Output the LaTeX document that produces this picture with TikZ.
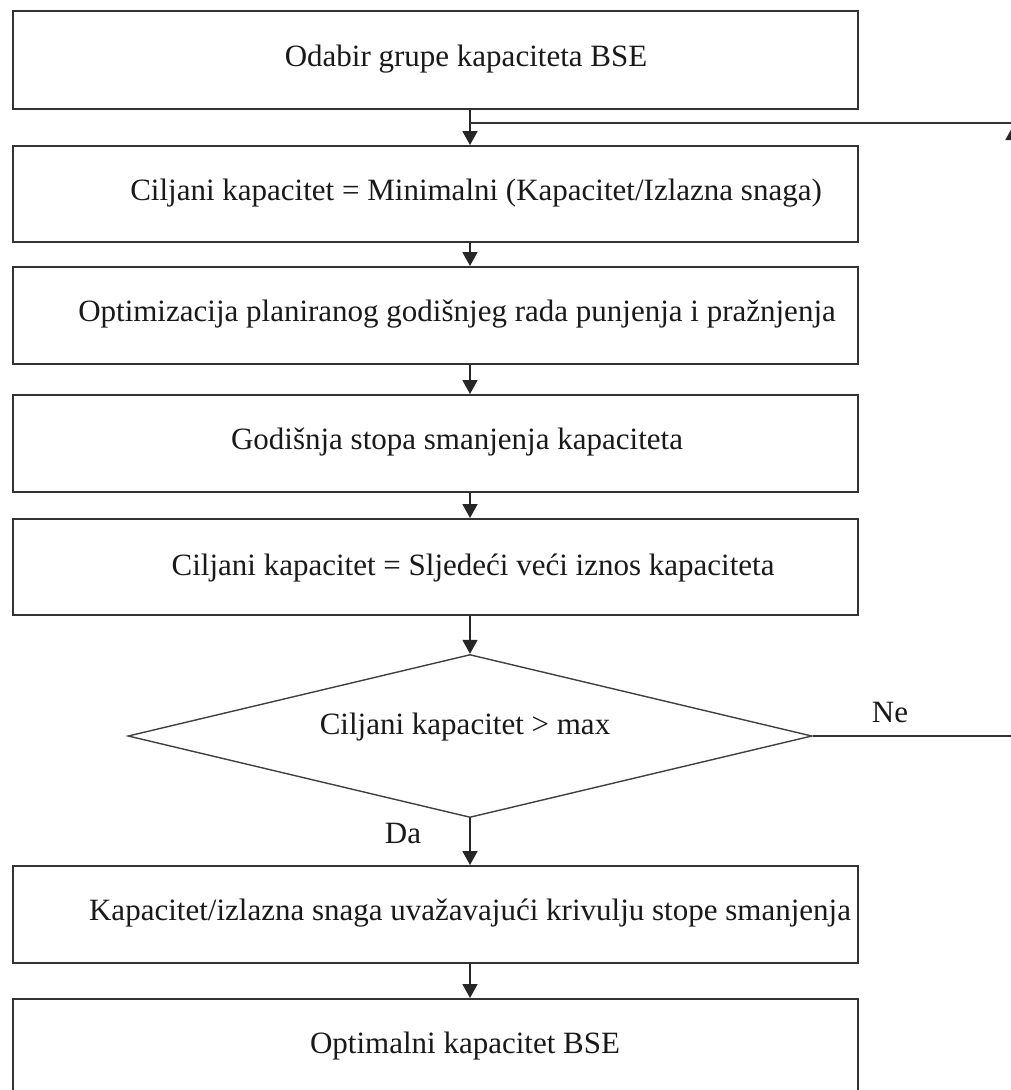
\documentclass[tikz,border=0pt]{standalone}
\usepackage{fontspec}
\setmainfont{Liberation Serif}
\usetikzlibrary{arrows.meta,shapes.geometric}
\begin{document}
\begin{tikzpicture}[x=1pt,y=-1pt,
  box/.style={draw=black!80,line width=1.5pt,minimum width=845pt,inner sep=0pt,anchor=north west},
  txt/.style={font=\fontsize{31}{35}\selectfont,inner sep=0pt,text=black!90},
  arr/.style={draw=black!85,line width=1.7pt,-{Triangle[width=15pt,length=14pt]}},
  ln/.style={draw=black!80,line width=1.5pt}]
\useasboundingbox (0,0) rectangle (1011,1090);
\fill[white] (0,0) rectangle (1011,1090);
% boxes
\node[box,minimum height=98pt] (b1) at (12,10) {};
\node[box,minimum height=96pt] (b2) at (12,145) {};
\node[box,minimum height=97pt] (b3) at (12,266) {};
\node[box,minimum height=97pt] (b4) at (12,394) {};
\node[box,minimum height=96pt] (b5) at (12,518) {};
\node[draw=black!75,line width=1.4pt,diamond,minimum width=684pt,minimum height=163pt,inner sep=0pt] (dec) at (470,736) {};
\node[box,minimum height=97pt] (b6) at (12,865) {};
\node[box,minimum height=97pt] (b7) at (12,998) {};
% texts
\node[txt] (t1) at (466,59) {Odabir grupe kapaciteta BSE};
\node[txt] (t2) at (476,193) {Ciljani kapacitet = Minimalni (Kapacitet/Izlazna snaga)};
\node[txt] (t3) at (457,314) {Optimizacija planiranog godišnjeg rada punjenja i pražnjenja};
\node[txt] (t4) at (457,442) {Godišnja stopa smanjenja kapaciteta};
\node[txt] (t5) at (473,568) {Ciljani kapacitet = Sljedeći veći iznos kapaciteta};
\node[txt] (td) at (465,727) {Ciljani kapacitet > max};
\node[txt] (t6) at (470,913) {Kapacitet/izlazna snaga uvažavajući krivulju stope smanjenja};
\node[txt] (t7) at (465,1046) {Optimalni kapacitet BSE};
\node[txt] (ne) at (890,712) {Ne};
\node[txt] (da) at (403,833) {Da};
% connectors
\coordinate (ax) at (470,0);
\coordinate (fb) at (470,123);
\coordinate (fbR) at (1013,123);
\coordinate (tipA) at (1013,150);
\coordinate (tipB) at (1013,126);
\draw[arr] (b1.south -| ax) -- (b2.north -| ax);
\draw[arr] (b2.south -| ax) -- (b3.north -| ax);
\draw[arr] (b3.south -| ax) -- (b4.north -| ax);
\draw[arr] (b4.south -| ax) -- (b5.north -| ax);
\draw[arr] (b5.south -| ax) -- (dec.north);
\draw[arr] (dec.south) -- (b6.north -| ax);
\draw[arr] (b6.south -| ax) -- (b7.north -| ax);
\draw[ln] (fb) -- (fbR);
\draw[ln] (dec.east) -- (dec.east -| fbR);
\draw[arr] (tipA) -- (tipB);
\end{tikzpicture}
\end{document}
